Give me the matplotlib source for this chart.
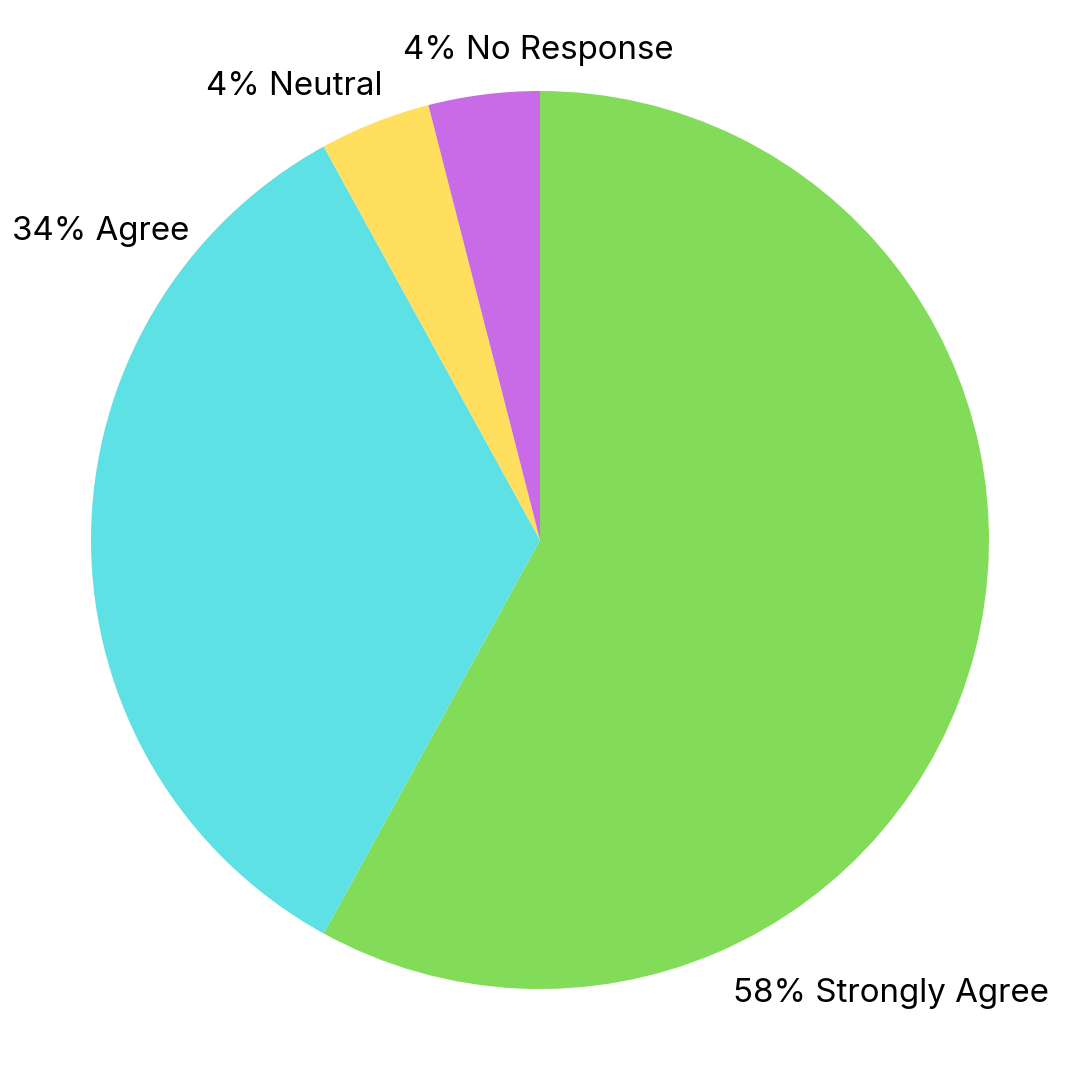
# Pie chart of survey responses

import matplotlib.pyplot as plt

# Survey results (percent)
categories = ["Strongly Agree", "Agree", "Neutral", "No Response"]
shares = [58, 34, 4, 4]
colors = ["#82DC5A", "#5DE1E5", "#FFDF5D", "#C96BE6"]

# label placement: (x, y, horizontal alignment) in axis units, pie radius = 1
label_spots = [
    (0.430, -1.011, "left"),
    (-0.782, 0.686, "right"),
    (-0.350, 1.011, "right"),
    (-0.305, 1.090, "left"),
]

plt.rcParams["font.family"] = ["Inter", "DejaVu Sans"]

fig = plt.figure(figsize=(10.8, 10.8), dpi=100)
ax = fig.add_axes([0, 0, 1, 1])

ax.pie(
    shares,
    colors=colors,
    startangle=90,
    counterclock=False,
    radius=1,
    wedgeprops={"linewidth": 0},
)

for cat, val, (x, y, ha) in zip(categories, shares, label_spots):
    ax.text(x, y, f"{val}% {cat}", ha=ha, va="center", fontsize=23.8, color="black")

lim = 540 / 449
ax.set_xlim(-lim, lim)
ax.set_ylim(-lim, lim)
ax.set_aspect("equal")
ax.axis("off")

fig.savefig("out.png", dpi=100, facecolor="white")
